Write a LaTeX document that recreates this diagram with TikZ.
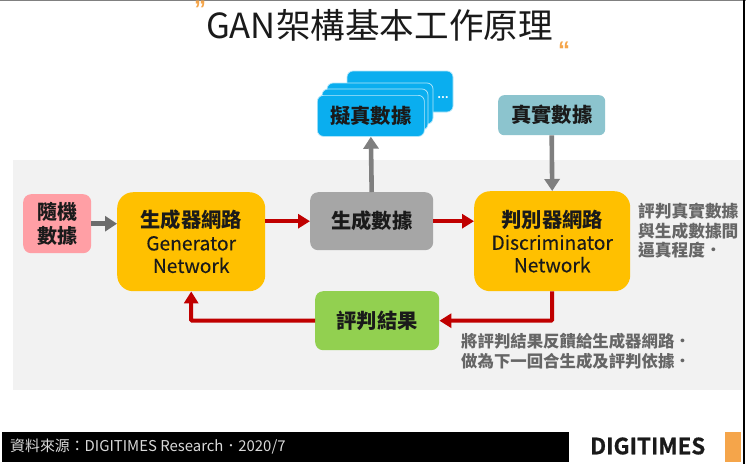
\documentclass[tikz,border=0pt]{standalone}
\usepackage{fontspec}
\setmainfont{Noto Sans CJK TC}
\newfontfamily\medfont[FakeBold=0.25]{Noto Sans CJK TC}
\newfontfamily\heavyfont[FakeBold=0.6]{Noto Sans CJK TC Bold}
\newfontfamily\quotefont{Liberation Sans Bold}
\usetikzlibrary{arrows.meta}
\definecolor{panelgray}{HTML}{F2F2F2}
\definecolor{boxyellow}{HTML}{FFC000}
\definecolor{boxpink}{HTML}{FF9FA5}
\definecolor{boxgray}{HTML}{A6A6A6}
\definecolor{boxgreen}{HTML}{92D050}
\definecolor{boxteal}{HTML}{8CC4CE}
\definecolor{boxblue}{HTML}{0AAEEF}
\definecolor{arrowred}{HTML}{C00000}
\definecolor{arrowgray}{HTML}{7F7F7F}
\definecolor{notegray}{HTML}{666666}
\definecolor{inkdark}{HTML}{1A1A1A}
\definecolor{quoteorange}{HTML}{F5A54A}
\newcommand{\enline}[1]{{\fontsize{19.2}{22.5}\selectfont\medfont\mdseries #1}}
\tikzset{
  x=1pt,y=-1pt,
  flowbox/.style={rounded corners=#1,inner sep=0pt,text=inkdark,align=center,anchor=north west,
    font=\fontsize{20.3}{22.5}\selectfont\bfseries},
  flowbox/.default=10pt,
  redflow/.style={draw=arrowred,line width=4pt,-{Triangle[length=12pt,width=14pt]}},
  grayflow/.style={draw=arrowgray,line width=4.6pt,-{Triangle[length=12pt,width=15pt]}},
  stacklayer/.style={fill=boxblue,draw=white!70!boxblue,line width=0.7pt,rounded corners=6pt},
  sidenote/.style={text=notegray,anchor=west,inner sep=0pt,align=left},
  quotemark/.style={anchor=center,inner sep=0pt,text=quoteorange,font=\fontsize{24}{24}\selectfont\quotefont},
}
\begin{document}
\begin{tikzpicture}
\useasboundingbox (0,0) rectangle (746,464);
\fill[white] (0,0) rectangle (746,464);
\fill[gray] (0,0) rectangle (746,1);
\fill[panelgray] (13,160) rectangle (743,390);
\fill[black] (743,0) rectangle (745,464);
% title
\node[anchor=center,inner sep=0pt,font=\fontsize{34.6}{38}\selectfont,text=inkdark] (title) at (379.5,25) {GAN架構基本工作原理};
\node[quotemark] (qa) at (200,9) {”};
\node[quotemark] (qb) at (564,50) {“};
% stacked blue boxes
\fill[stacklayer] (347,71) rectangle (453,112);
\node[anchor=center,inner sep=0pt,text=white,font=\fontsize{10}{10}\selectfont\bfseries] (dots) at (443,98) {…};
\fill[stacklayer] (327,83) rectangle (433,124);
\fill[stacklayer] (322,89) rectangle (428,130);
\node[flowbox=6pt,fill=boxblue,draw=white!70!boxblue,line width=0.7pt,minimum width=107pt,minimum height=41pt] (fake) at (317,95) {擬真數據};
\node[flowbox=6pt,fill=boxteal,minimum width=107pt,minimum height=40pt] (real) at (498,95) {真實數據};
\node[flowbox=8pt,fill=boxpink,minimum width=68pt,minimum height=59pt,font=\fontsize{20}{24.5}\selectfont\bfseries] (rand) at (23,194) {隨機\\數據};
\node[flowbox=16pt,fill=boxyellow,minimum width=148pt,minimum height=99pt] (gen) at (117,192) {生成器網路\\\enline{Generator}\\\enline{Network}};
\node[flowbox=8pt,fill=boxgray,minimum width=123pt,minimum height=58pt] (data) at (310,192) {生成數據};
\node[flowbox=16pt,fill=boxyellow,minimum width=156pt,minimum height=100pt] (disc) at (474,191) {判別器網路\\\enline{Discriminator}\\\enline{Network}};
\node[flowbox=8pt,fill=boxgreen,minimum width=124pt,minimum height=59pt] (eval) at (315,291) {評判結果};
% connectors
\draw[grayflow,draw=arrowgray!85!black] (rand.east) -- (gen.west |- rand.east);
\draw[redflow] (gen.east |- data.west) -- (data.west);
\draw[redflow] (data.east) -- (disc.west |- data.east);
\draw[grayflow] (data.north) -- (fake.south);
\draw[grayflow] (real.south) -- (disc.north);
\draw[redflow,rounded corners=1pt] (disc.south) |- (eval.east);
\draw[redflow,rounded corners=1pt] (eval.west) -| (gen.south);
% notes
\node[sidenote,font=\fontsize{16.7}{19.5}\selectfont\bfseries] (noteA) at (638,231) {評判真實數據\\與生成數據間\\逼真程度．};
\node[sidenote,font=\fontsize{16.4}{20.5}\selectfont\bfseries] (noteB) at (461,351.5) {將評判結果反饋給生成器網路．\\做為下一回合生成及評判依據．};
% footer
\fill[black] (2,432) rectangle (569,462);
\node[anchor=west,inner sep=0pt,text=white!85!black,font=\fontsize{14.9}{16}\selectfont] (src) at (10,447) {資料來源：DIGITIMES Research．2020/7};
\node[anchor=west,inner sep=0pt,text=inkdark,font=\fontsize{22.4}{24}\selectfont\heavyfont] (logo) at (590,446) {DIGITIMES};
\fill[quoteorange] (725,432) rectangle (741,462);
\end{tikzpicture}
\end{document}
